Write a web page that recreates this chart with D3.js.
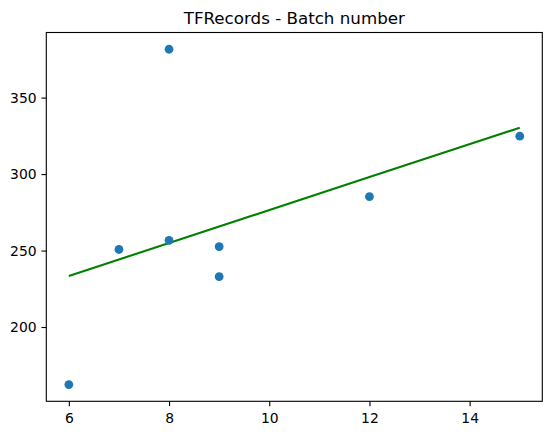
<!DOCTYPE html>
<html>
<head>
<meta charset="utf-8">
<script src="https://cdn.jsdelivr.net/npm/d3@7"></script>
<style>
    body { margin: 0; background: #fff; }
    text { font-family: "DejaVu Sans", sans-serif; fill: #000; }
</style>
</head>
<body>
<div id="chart-area"></div>
<script>
// batch number vs value
var batchNumbers = [6, 7, 8, 8, 9, 9, 12, 15];
var batchValues = [162.4, 250.7, 256.7, 381.6, 252.6, 233.0, 285.3, 324.8];
var xTicks = [6, 8, 10, 12, 14];
var yTicks = [200, 250, 300, 350];

var margin = { left: 46.3, right: 8.7, top: 32.5, bottom: 33.7 };
var width = 551 - margin.left - margin.right;
var height = 435 - margin.top - margin.bottom;

var svg = d3.select("#chart-area")
    .append("svg")
    .attr("width", 551)
    .attr("height", 435);

var g = svg.append("g")
    .attr("transform", "translate(" + margin.left + "," + margin.top + ")");

// matplotlib style 5% margins
function padded(ext) {
    var m = (ext[1] - ext[0]) * 0.05;
    return [ext[0] - m, ext[1] + m];
}

var x = d3.scaleLinear()
    .domain(padded(d3.extent(batchNumbers)))
    .range([0, width]);

var y = d3.scaleLinear()
    .domain(padded(d3.extent(batchValues)))
    .range([height, 0]);

// least squares fit
var mx = d3.mean(batchNumbers);
var my = d3.mean(batchValues);
var sxy = d3.sum(batchNumbers, function (d, i) { return (d - mx) * (batchValues[i] - my); });
var sxx = d3.sum(batchNumbers, function (d) { return (d - mx) * (d - mx); });
var slope = sxy / sxx;
var intercept = my - slope * mx;

var xAxisCall = d3.axisBottom(x)
    .tickValues(xTicks)
    .tickSize(4.86)
    .tickPadding(6.7)
    .tickSizeOuter(0);
var xAxis = g.append("g")
    .attr("class", "x-axis")
    .attr("transform", "translate(0," + height + ")")
    .call(xAxisCall);

var yAxisCall = d3.axisLeft(y)
    .tickValues(yTicks)
    .tickSize(4.86)
    .tickPadding(4.86)
    .tickSizeOuter(0);
var yAxis = g.append("g")
    .attr("class", "y-axis")
    .call(yAxisCall);

[xAxis, yAxis].forEach(function (a) {
    a.select(".domain").remove();
    a.selectAll(".tick line").attr("stroke", "#000").attr("stroke-width", 1.1);
    a.selectAll(".tick text")
        .attr("font-size", "13.9px")
        .attr("font-family", "DejaVu Sans")
        .attr("fill", "#000");
});

// frame
g.append("rect")
    .attr("x", 0)
    .attr("y", 0)
    .attr("width", width)
    .attr("height", height)
    .attr("fill", "none")
    .attr("stroke", "#000")
    .attr("stroke-width", 1.1);

// fit line, drawn in data order
var line = d3.line()
    .x(function (d) { return x(d); })
    .y(function (d) { return y(slope * d + intercept); });

g.append("path")
    .datum(batchNumbers)
    .attr("d", line)
    .attr("fill", "none")
    .attr("stroke", "#008000")
    .attr("stroke-width", 2.08);

g.selectAll("circle")
    .data(batchNumbers)
    .enter()
    .append("circle")
    .attr("cx", function (d) { return x(d); })
    .attr("cy", function (d, i) { return y(batchValues[i]); })
    .attr("r", 4.4)
    .attr("fill", "#1f77b4");

svg.append("text")
    .attr("x", margin.left + width / 2)
    .attr("y", 24.2)
    .attr("text-anchor", "middle")
    .attr("font-size", "16.7px")
    .text("TFRecords - Batch number");
</script>
</body>
</html>
